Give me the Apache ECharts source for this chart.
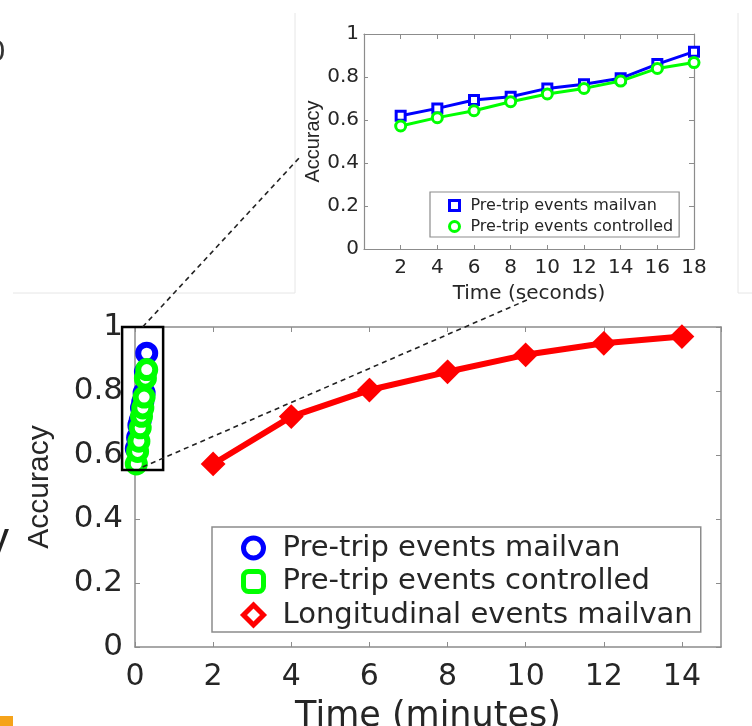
<!DOCTYPE html>
<html>
<head>
<meta charset="utf-8">
<title>Accuracy over time</title>
<script src="https://cdn.jsdelivr.net/npm/echarts@6/dist/echarts.min.js"></script>
<style>
  html, body { margin: 0; padding: 0; background: #fff; }
  #chart { width: 752px; height: 726px; }
</style>
</head>
<body>
<div id="chart"></div>
<script>
// pre-trip events (inset), time in seconds
const preTripSeconds = [2, 4, 6, 8, 10, 12, 14, 16, 18]
const preTripMailvan = [0.62, 0.654, 0.693, 0.708, 0.747, 0.766, 0.794, 0.86, 0.918]
const preTripControlled = [0.572, 0.611, 0.643, 0.685, 0.721, 0.747, 0.781, 0.84, 0.867]
// longitudinal events (main plot), time in minutes
const longMinutes = [2, 4, 6, 8, 10, 12, 14]
const longMailvan = [0.572, 0.72, 0.803, 0.86, 0.913, 0.949, 0.97]

const NAME_MAIL = 'Pre-trip events mailvan'
const NAME_CTRL = 'Pre-trip events controlled'
const NAME_LONG = 'Longitudinal events mailvan'

const BLUE = '#0000ff'
const GREEN = '#00ff00'
const RED = '#ff0000'
const TEXT = '#262626'
const FRAME = '#8c8c8c'
const WIDE = 'DejaVu Sans'
const NARROW = 'Liberation Sans'

// zoomed region of the main plot (minutes / accuracy)
const zoomBoxX = [-0.33, 0.72]
const zoomBoxY = [0.553, 1.0]

const toMinutes = (arr) => preTripSeconds.map((s, i) => [s / 60, arr[i]])
const pairs = (xs, ys) => xs.map((x, i) => [x, ys[i]])

// mirrored box axis (MATLAB style): only inward ticks
function mirrorAxis (grid, min, max, interval, pos, w) {
  return {
    type: 'value', gridIndex: grid, position: pos, min, max, interval,
    axisLine: { show: true, onZero: false, lineStyle: { color: FRAME, width: w } },
    axisTick: { show: true, inside: true, length: 5, lineStyle: { color: FRAME } },
    axisLabel: { show: false },
    splitLine: { show: false }
  }
}

const chart = echarts.init(document.getElementById('chart'))

const option = {
  animation: false,
  backgroundColor: '#fff',
  grid: [
    { left: 135, top: 327, width: 586, height: 320, containLabel: false, outerBoundsMode: 'none' },
    { left: 364, top: 34, width: 330, height: 215, containLabel: false, outerBoundsMode: 'none' }
  ],
  xAxis: [
    {
      type: 'value', gridIndex: 0, min: 0, max: 15, interval: 2,
      name: 'Time (minutes)', nameLocation: 'middle', nameGap: 52,
      nameTextStyle: { fontFamily: WIDE, fontSize: 35, color: TEXT },
      axisLine: { show: true, onZero: false, lineStyle: { color: FRAME, width: 1.5 } },
      axisTick: { show: true, inside: true, length: 5, lineStyle: { color: FRAME } },
      axisLabel: { fontFamily: WIDE, fontSize: 30, color: TEXT, margin: 15, showMaxLabel: false },
      splitLine: { show: false }
    },
    mirrorAxis(0, 0, 15, 2, 'top', 1.5),
    {
      type: 'value', gridIndex: 1, min: 0, max: 18, interval: 2,
      name: 'Time (seconds)', nameLocation: 'middle', nameGap: 35,
      nameTextStyle: { fontFamily: WIDE, fontSize: 20, color: TEXT },
      axisLine: { show: true, onZero: false, lineStyle: { color: FRAME, width: 1.2 } },
      axisTick: { show: true, inside: true, length: 4, lineStyle: { color: FRAME } },
      axisLabel: { fontFamily: WIDE, fontSize: 20, color: TEXT, margin: 9, showMinLabel: false },
      splitLine: { show: false }
    },
    mirrorAxis(1, 0, 18, 2, 'top', 1.2)
  ],
  yAxis: [
    {
      type: 'value', gridIndex: 0, min: 0, max: 1, interval: 0.2,
      name: 'Accuracy', nameLocation: 'middle', nameGap: 80,
      nameTextStyle: { fontFamily: NARROW, fontSize: 30, color: TEXT },
      axisLine: { show: true, onZero: false, lineStyle: { color: FRAME, width: 1.5 } },
      axisTick: { show: true, inside: true, length: 5, lineStyle: { color: FRAME } },
      axisLabel: { fontFamily: WIDE, fontSize: 31, color: TEXT, margin: 12 },
      splitLine: { show: false }
    },
    mirrorAxis(0, 0, 1, 0.2, 'right', 1.5),
    {
      type: 'value', gridIndex: 1, min: 0, max: 1, interval: 0.2,
      name: 'Accuracy', nameLocation: 'middle', nameGap: 40,
      nameTextStyle: { fontFamily: NARROW, fontSize: 20, color: TEXT },
      axisLine: { show: true, onZero: false, lineStyle: { color: FRAME, width: 1.2 } },
      axisTick: { show: true, inside: true, length: 4, lineStyle: { color: FRAME } },
      axisLabel: { fontFamily: WIDE, fontSize: 20, color: TEXT, margin: 5 },
      splitLine: { show: false }
    },
    mirrorAxis(1, 0, 1, 0.2, 'right', 1.2)
  ],
  legend: [
    {
      orient: 'vertical', left: 212, top: 527,
      padding: [6, 8, 2, 29], itemGap: 3.5,
      itemWidth: 20, itemHeight: 20,
      backgroundColor: '#fff', borderColor: FRAME, borderWidth: 1.5,
      textStyle: { fontFamily: WIDE, fontSize: 29, color: TEXT, lineHeight: 30, padding: [0, 0, 0, 14] },
      selectedMode: false,
      data: [
        { name: NAME_MAIL, icon: 'circle', itemStyle: { color: '#fff', borderColor: BLUE, borderWidth: 5 } },
        { name: NAME_CTRL, icon: 'roundRect', itemStyle: { color: '#fff', borderColor: GREEN, borderWidth: 5 } },
        { name: NAME_LONG, icon: 'diamond', itemStyle: { color: '#fff', borderColor: RED, borderWidth: 5 } }
      ]
    },
    {
      orient: 'vertical', left: 430, top: 192,
      padding: [5, 6, 2, 18], itemGap: 4,
      itemWidth: 10, itemHeight: 10,
      backgroundColor: '#fff', borderColor: FRAME, borderWidth: 1.2,
      textStyle: { fontFamily: WIDE, fontSize: 16, color: TEXT, lineHeight: 17, padding: [0, 0, 0, 6] },
      selectedMode: false,
      data: [
        { name: NAME_MAIL, icon: 'rect', itemStyle: { color: '#fff', borderColor: BLUE, borderWidth: 3 } },
        { name: NAME_CTRL, icon: 'circle', itemStyle: { color: '#fff', borderColor: GREEN, borderWidth: 3 } }
      ]
    }
  ],
  series: [
    {
      name: NAME_MAIL, type: 'line', xAxisIndex: 0, yAxisIndex: 0,
      data: toMinutes(preTripMailvan),
      symbol: 'circle', symbolSize: 17,
      itemStyle: { color: '#fff', borderColor: BLUE, borderWidth: 6 },
      lineStyle: { color: BLUE, width: 3 }, z: 3
    },
    {
      name: NAME_CTRL, type: 'line', xAxisIndex: 0, yAxisIndex: 0,
      data: toMinutes(preTripControlled),
      symbol: 'circle', symbolSize: 17,
      itemStyle: { color: '#fff', borderColor: GREEN, borderWidth: 6 },
      lineStyle: { color: GREEN, width: 3 }, z: 4
    },
    {
      name: NAME_LONG, type: 'line', xAxisIndex: 0, yAxisIndex: 0,
      data: pairs(longMinutes, longMailvan),
      symbol: 'diamond', symbolSize: 22,
      itemStyle: { color: RED, borderColor: RED, borderWidth: 2 },
      lineStyle: { color: RED, width: 6 }, z: 3
    },
    {
      name: NAME_MAIL, type: 'line', xAxisIndex: 2, yAxisIndex: 2,
      data: pairs(preTripSeconds, preTripMailvan),
      symbol: 'rect', symbolSize: 9,
      itemStyle: { color: '#fff', borderColor: BLUE, borderWidth: 3 },
      lineStyle: { color: BLUE, width: 3 }, z: 3
    },
    {
      name: NAME_CTRL, type: 'line', xAxisIndex: 2, yAxisIndex: 2,
      data: pairs(preTripSeconds, preTripControlled),
      symbol: 'circle', symbolSize: 10,
      itemStyle: { color: '#fff', borderColor: GREEN, borderWidth: 3 },
      lineStyle: { color: GREEN, width: 3 }, z: 4
    }
  ]
}

chart.setOption(option)

// zoom box + connector lines, placed through the main grid's scale
const tl = chart.convertToPixel({ gridIndex: 0 }, [zoomBoxX[0], zoomBoxY[1]])
const br = chart.convertToPixel({ gridIndex: 0 }, [zoomBoxX[1], zoomBoxY[0]])
const midX = (tl[0] + br[0]) / 2

chart.setOption({
  graphic: [
    // faint frame lines of the neighbouring panels
    { type: 'line', shape: { x1: 13, y1: 293, x2: 295, y2: 293 }, style: { stroke: '#e6e6e6', lineWidth: 1 }, z: 1 },
    { type: 'line', shape: { x1: 295, y1: 13, x2: 295, y2: 293 }, style: { stroke: '#e6e6e6', lineWidth: 1 }, z: 1 },
    { type: 'line', shape: { x1: 738, y1: 13, x2: 738, y2: 293 }, style: { stroke: '#e6e6e6', lineWidth: 1 }, z: 1 },
    { type: 'line', shape: { x1: 738, y1: 293, x2: 752, y2: 293 }, style: { stroke: '#e6e6e6', lineWidth: 1 }, z: 1 },
    // cropped leftovers at the picture's edge
    { type: 'text', left: -12, top: 40, style: { text: '0', fontFamily: WIDE, fontSize: 28, fill: '#333' } },
    { type: 'text', left: -13, top: 519, style: { text: 'y', fontFamily: NARROW, fontSize: 44, fill: '#222' } },
    { type: 'rect', shape: { x: 0, y: 716, width: 13, height: 10 }, style: { fill: '#f5a31a' } },
    // zoom box
    {
      type: 'rect', z: 10,
      shape: { x: tl[0], y: tl[1], width: br[0] - tl[0], height: br[1] - tl[1] },
      style: { fill: 'none', stroke: '#000', lineWidth: 2.5 }
    },
    {
      type: 'line', z: 10,
      shape: { x1: midX, y1: tl[1], x2: 300, y2: 157 },
      style: { stroke: '#222', lineWidth: 1.6, lineDash: [5, 4] }
    },
    {
      type: 'line', z: 10,
      shape: { x1: midX, y1: br[1] - 3, x2: 527, y2: 300 },
      style: { stroke: '#222', lineWidth: 1.6, lineDash: [5, 4] }
    }
  ]
})
</script>
</body>
</html>
